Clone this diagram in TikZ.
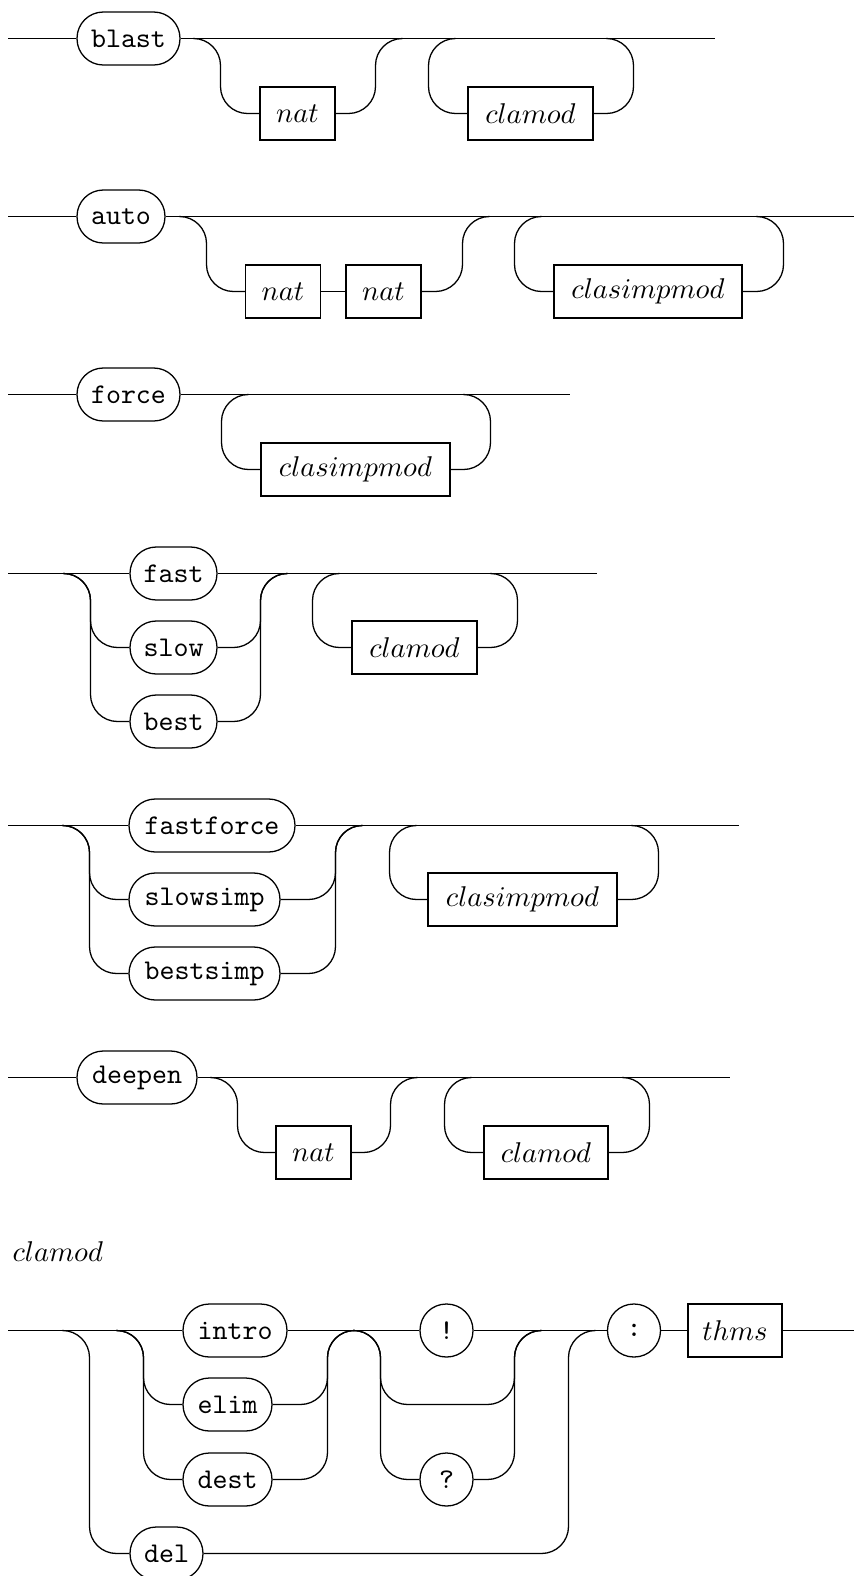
\documentclass[tikz,border=0pt]{standalone}
\begin{document}
\begin{tikzpicture}[x=0.35pt,y=-0.35pt,line width=0.45pt,
  term/.style={draw,rounded corners=9.2pt,minimum height=18.55pt,inner sep=0pt,font=\ttfamily},
  nterm/.style={draw,minimum height=18.55pt,inner sep=0pt},
  rc/.style={rounded corners=9.45pt}]
\useasboundingbox (0,0) rectangle (854,1576);
% ---------- row 1: blast
\node[term,minimum width=36.05pt] (blast) at (128.5,38.5) {blast};
\node[nterm,minimum width=26.25pt] (nat1) at (297.5,113.5) {$nat$};
\node[nterm,minimum width=43.75pt] (cla1) at (530.5,113.5) {$clamod$};
\coordinate (s1) at (8,38.5);
\coordinate (e1) at (715,38.5);
\coordinate (j1) at (193,38.5);
\coordinate (o1l) at (220.5,113.5);
\coordinate (o1r) at (375.5,38.5);
\coordinate (o1e) at (402,38.5);
\coordinate (l1a) at (455,38.5);
\coordinate (l1l) at (428.5,113.5);
\coordinate (l1r) at (633.5,38.5);
\coordinate (l1c) at (606,38.5);
\draw (s1) -- (blast.west);
\draw (blast.east) -- (e1);
\draw[rc] (j1) -| (o1l) -- (nat1.west);
\draw[rc] (nat1.east) -| (o1r) -- (o1e);
\draw[rc] (l1a) -| (l1l) -- (cla1.west);
\draw[rc] (cla1.east) -| (l1r) -- (l1c);
% ---------- row 2: auto
\node[term,minimum width=30.8pt] (auto) at (121,216.5) {auto};
\node[nterm,minimum width=26.25pt] (nat2a) at (283,291.5) {$nat$};
\node[nterm,minimum width=26.25pt] (nat2b) at (383.5,291.5) {$nat$};
\node[nterm,minimum width=65.8pt] (csm2) at (648,291.5) {$clasimpmod$};
\coordinate (s2) at (8,216.5);
\coordinate (e2) at (854,216.5);
\coordinate (j2) at (179,216.5);
\coordinate (o2l) at (206.5,291.5);
\coordinate (o2r) at (462.5,216.5);
\coordinate (o2e) at (489,216.5);
\coordinate (l2a) at (541,216.5);
\coordinate (l2l) at (514.5,291.5);
\coordinate (l2r) at (783.5,216.5);
\coordinate (l2c) at (756,216.5);
\draw (s2) -- (auto.west);
\draw (auto.east) -- (e2);
\draw[rc] (j2) -| (o2l) -- (nat2a.west);
\draw (nat2a.east) -- (nat2b.west);
\draw[rc] (nat2b.east) -| (o2r) -- (o2e);
\draw[rc] (l2a) -| (l2l) -- (csm2.west);
\draw[rc] (csm2.east) -| (l2r) -- (l2c);
% ---------- row 3: force
\node[term,minimum width=36.05pt] (force) at (128.5,394.5) {force};
\node[nterm,minimum width=66.15pt] (csm3) at (355.5,469.5) {$clasimpmod$};
\coordinate (s3) at (8,394.5);
\coordinate (e3) at (570,394.5);
\coordinate (l3a) at (248,394.5);
\coordinate (l3l) at (221.5,469.5);
\coordinate (l3r) at (490.5,394.5);
\coordinate (l3c) at (463,394.5);
\draw (s3) -- (force.west);
\draw (force.east) -- (e3);
\draw[rc] (l3a) -| (l3l) -- (csm3.west);
\draw[rc] (csm3.east) -| (l3r) -- (l3c);
% ---------- row 4: fast / slow / best
\node[term,minimum width=30.45pt] (fast) at (173.5,573.5) {fast};
\node[term,minimum width=30.45pt] (slow) at (173.5,647.5) {slow};
\node[term,minimum width=30.45pt] (best) at (173.5,721.5) {best};
\node[nterm,minimum width=43.75pt] (cla4) at (414.5,647.5) {$clamod$};
\coordinate (s4) at (8,573.5);
\coordinate (e4) at (597,573.5);
\coordinate (j4) at (63,573.5);
\coordinate (c4s) at (90.5,647.5);
\coordinate (c4b) at (90.5,721.5);
\coordinate (c4r) at (260.5,573.5);
\coordinate (c4e) at (287,573.5);
\coordinate (l4a) at (339,573.5);
\coordinate (l4l) at (312.5,647.5);
\coordinate (l4r) at (517.5,573.5);
\coordinate (l4c) at (490,573.5);
\draw (s4) -- (fast.west);
\draw (fast.east) -- (e4);
\draw[rc] (j4) -| (c4s) -- (slow.west);
\draw[rc] (j4) -| (c4b) -- (best.west);
\draw[rc] (slow.east) -| (c4r) -- (c4e);
\draw[rc] (best.east) -| (c4r) -- (c4e);
\draw[rc] (l4a) -| (l4l) -- (cla4.west);
\draw[rc] (cla4.east) -| (l4r) -- (l4c);
% ---------- row 5: fastforce / slowsimp / bestsimp
\node[term,minimum width=58.1pt] (ff) at (212,825.5) {fastforce};
\node[term,minimum width=52.85pt] (ss) at (204.5,899.5) {slowsimp};
\node[term,minimum width=52.85pt] (bs) at (204.5,973.5) {bestsimp};
\node[nterm,minimum width=66.15pt] (csm5) at (522.5,899.5) {$clasimpmod$};
\coordinate (s5) at (8,825.5);
\coordinate (e5) at (739,825.5);
\coordinate (j5) at (62,825.5);
\coordinate (c5s) at (89.5,899.5);
\coordinate (c5b) at (89.5,973.5);
\coordinate (c5r) at (335.5,825.5);
\coordinate (c5e) at (362,825.5);
\coordinate (l5a) at (416,825.5);
\coordinate (l5l) at (389.5,899.5);
\coordinate (l5r) at (658.5,825.5);
\coordinate (l5c) at (631,825.5);
\draw (s5) -- (ff.west);
\draw (ff.east) -- (e5);
\draw[rc] (j5) -| (c5s) -- (ss.west);
\draw[rc] (j5) -| (c5b) -- (bs.west);
\draw[rc] (ss.east) -| (c5r) -- (c5e);
\draw[rc] (bs.east) -| (c5r) -- (c5e);
\draw[rc] (l5a) -| (l5l) -- (csm5.west);
\draw[rc] (csm5.east) -| (l5r) -- (l5c);
% ---------- row 6: deepen
\node[term,minimum width=42pt] (deepen) at (137,1077.5) {deepen};
\node[nterm,minimum width=26.25pt] (nat6) at (313.5,1152.5) {$nat$};
\node[nterm,minimum width=43.4pt] (cla6) at (546,1152.5) {$clamod$};
\coordinate (s6) at (8,1077.5);
\coordinate (e6) at (730,1077.5);
\coordinate (j6) at (210,1077.5);
\coordinate (o6l) at (237.5,1152.5);
\coordinate (o6r) at (390.5,1077.5);
\coordinate (o6e) at (417,1077.5);
\coordinate (l6a) at (471,1077.5);
\coordinate (l6l) at (444.5,1152.5);
\coordinate (l6r) at (649.5,1077.5);
\coordinate (l6c) at (622,1077.5);
\draw (s6) -- (deepen.west);
\draw (deepen.east) -- (e6);
\draw[rc] (j6) -| (o6l) -- (nat6.west);
\draw[rc] (nat6.east) -| (o6r) -- (o6e);
\draw[rc] (l6a) -| (l6l) -- (cla6.west);
\draw[rc] (cla6.east) -| (l6r) -- (l6c);
% ---------- label
\node[anchor=base west,inner sep=0pt] (lbl) at (12,1261) {$clamod$};
% ---------- row 7: clamod definition
\node[term,minimum width=36.4pt] (intro) at (235,1330.5) {intro};
\node[term,minimum width=31.15pt] (elim) at (227.5,1404.5) {elim};
\node[term,minimum width=31.15pt] (dest) at (227.5,1479.5) {dest};
\node[term,minimum width=25.55pt] (del) at (166.5,1553.5) {del};
\node[term,minimum width=18.55pt] (bang) at (446.5,1330.5) {!};
\node[term,minimum width=18.55pt] (qm) at (446.5,1479.5) {?};
\node[term,minimum width=18.55pt] (colon) at (634,1330.5) {:};
\node[nterm,minimum width=32.9pt] (thms) at (735,1330.5) {$thms$};
\coordinate (s7) at (8,1330.5);
\coordinate (e7) at (854,1330.5);
\coordinate (j7a) at (62,1330.5);
\coordinate (j7b) at (116,1330.5);
\coordinate (c7d) at (89.5,1553.5);
\coordinate (c7e) at (143.5,1404.5);
\coordinate (c7t) at (143.5,1479.5);
\coordinate (c7r) at (327.5,1330.5);
\coordinate (c7re) at (354,1330.5);
\coordinate (j7c) at (353,1330.5);
\coordinate (c7m) at (380.5,1404.5);
\coordinate (c7qq) at (380.5,1479.5);
\coordinate (c7q) at (514.5,1330.5);
\coordinate (c7qe) at (541,1330.5);
\coordinate (c7x) at (568.5,1330.5);
\coordinate (c7xe) at (595,1330.5);
\draw (s7) -- (intro.west);
\draw[rc] (j7a) -| (c7d) -- (del.west);
\draw[rc] (j7b) -| (c7e) -- (elim.west);
\draw[rc] (j7b) -| (c7t) -- (dest.west);
\draw[rc] (elim.east) -| (c7r) -- (c7re);
\draw[rc] (dest.east) -| (c7r) -- (c7re);
\draw (intro.east) -- (bang.west);
\draw (bang.east) -- (colon.west);
\draw[rc] (j7c) -| (c7m) -| (c7q) -- (c7qe);
\draw[rc] (j7c) -| (c7qq) -- (qm.west);
\draw[rc] (qm.east) -| (c7q) -- (c7qe);
\draw[rc] (del.east) -| (c7x) -- (c7xe);
\draw (colon.east) -- (thms.west);
\draw (thms.east) -- (e7);
\end{tikzpicture}
\end{document}
